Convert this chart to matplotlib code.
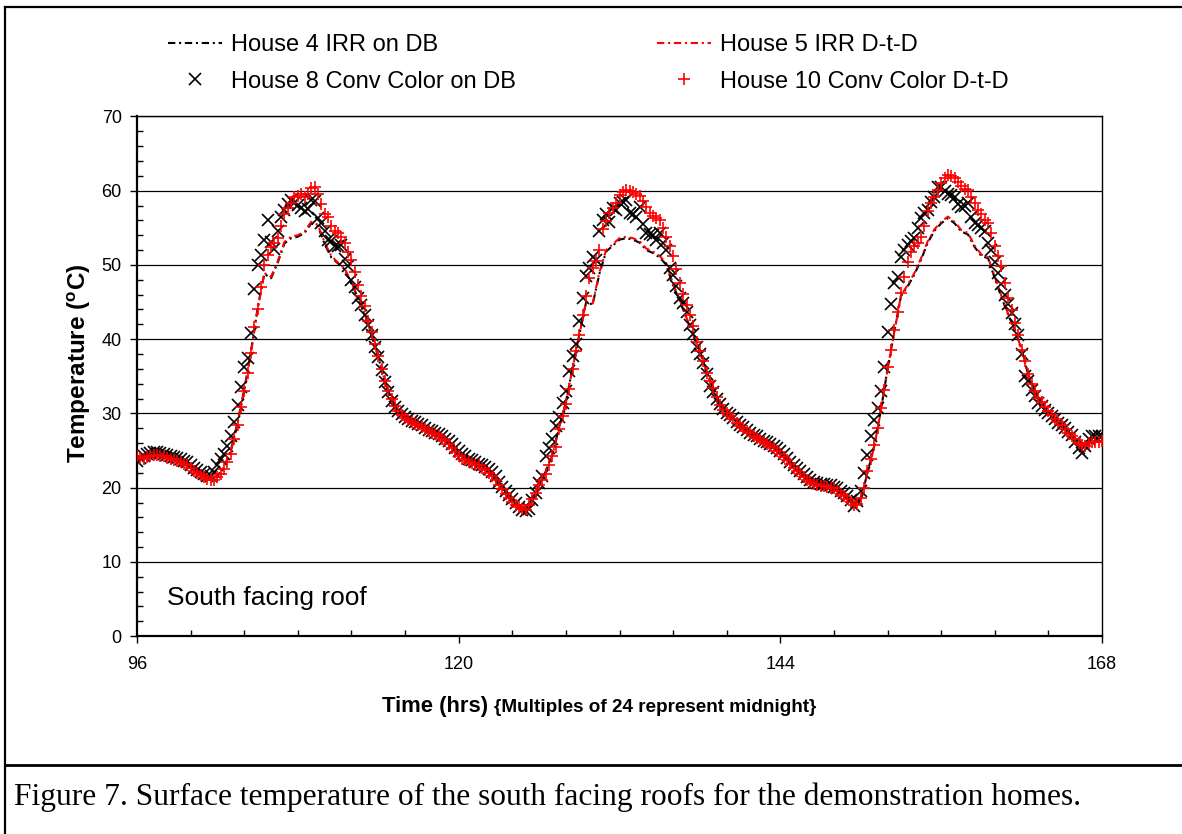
import numpy as np
import matplotlib
matplotlib.use("Agg")
import matplotlib.pyplot as plt
from matplotlib.lines import Line2D
from matplotlib.ticker import MultipleLocator

plt.rcParams['font.family'] = ['Liberation Sans', 'DejaVu Sans']
plt.rcParams['mathtext.fontset'] = 'custom'
plt.rcParams['mathtext.rm'] = 'Liberation Sans'
plt.rcParams['mathtext.bf'] = 'Liberation Sans:bold'

# ---------------- data ----------------
# line series sampled every 0.5 h, marker series every 0.25 h
time_line = np.arange(96.0, 168.01, 0.5)
time_mark = np.arange(96.0, 168.001, 0.25)

house4_irr_db = [
    24.0, 23.9, 24.3, 24.4, 24.2, 23.9, 23.6, 23.2, 22.8, 22.1, 21.5, 21.2,
    21.6, 22.8, 25.0, 28.8, 33.2, 38.3, 44.2, 48.8, 48.2, 50.3, 52.9, 53.6,
    53.8, 54.3, 55.6, 55.2, 52.8, 51.0, 50.2, 49.4, 47.5, 45.5, 43.2, 40.5,
    37.6, 34.2, 31.7, 30.2, 29.4, 28.9, 28.4, 27.9, 27.4, 26.9, 26.3, 25.4,
    24.4, 23.8, 23.4, 23.1, 22.5, 21.7, 20.5, 19.3, 18.2, 17.4, 17.0, 18.4,
    20.4, 22.2, 24.5, 28.2, 31.5, 36.2, 40.6, 44.9, 44.7, 48.8, 51.8, 52.6,
    53.4, 53.6, 53.4, 53.0, 52.0, 51.6, 51.0, 50.0, 47.2, 45.2, 42.8, 40.5,
    38.3, 35.5, 33.3, 31.2, 30.0, 29.3, 28.3, 27.7, 26.9, 26.4, 25.9, 25.3,
    24.6, 23.7, 22.7, 21.9, 21.1, 20.5, 20.2, 20.1, 19.9, 19.2, 18.5, 17.6,
    18.4, 22.0, 25.6, 30.4, 36.0, 41.0, 45.8, 47.1, 48.7, 50.7, 53.0, 54.6,
    55.6, 56.3, 55.6, 54.5, 54.1, 52.4, 51.2, 50.9, 48.2, 45.6, 43.3, 41.2,
    38.5, 35.2, 33.0, 31.5, 30.3, 29.3, 28.4, 27.4, 26.6, 25.6, 25.9, 26.2, 26.3]

house5_irr_dtd = [
    24.1, 24.0, 24.2, 24.4, 24.2, 23.9, 23.6, 23.1, 22.7, 22.0, 21.4, 21.1,
    21.5, 22.7, 24.8, 28.6, 33.0, 38.1, 44.0, 48.9, 48.4, 50.5, 53.1, 53.8,
    54.0, 54.5, 55.8, 55.4, 53.0, 51.2, 50.3, 49.5, 47.6, 45.6, 43.3, 40.6,
    37.7, 34.3, 31.8, 30.3, 29.4, 28.9, 28.4, 27.9, 27.4, 26.9, 26.3, 25.4,
    24.4, 23.8, 23.4, 23.0, 22.5, 21.6, 20.4, 19.2, 18.1, 17.3, 16.9, 18.3,
    20.3, 22.1, 24.4, 28.1, 31.4, 36.1, 40.5, 45.0, 44.8, 49.0, 52.0, 52.8,
    53.6, 53.8, 53.6, 53.2, 52.2, 51.8, 51.2, 50.2, 47.4, 45.3, 42.9, 40.6,
    38.4, 35.6, 33.3, 31.2, 30.0, 29.3, 28.3, 27.7, 26.9, 26.4, 25.9, 25.3,
    24.6, 23.7, 22.7, 21.9, 21.1, 20.5, 20.2, 20.1, 19.9, 19.2, 18.5, 17.5,
    18.3, 21.9, 25.5, 30.3, 35.9, 40.9, 45.9, 47.3, 48.9, 50.9, 53.2, 54.8,
    55.8, 56.5, 55.8, 54.7, 54.3, 52.6, 51.4, 51.0, 48.4, 45.8, 43.4, 41.3,
    38.6, 35.3, 33.1, 31.5, 30.3, 29.3, 28.4, 27.4, 26.6, 25.6, 25.9, 26.2, 26.3]

house8_conv_db = [
    # day 1 (96 - 119.75)
    23.6, 24.0, 24.3, 24.5, 24.7, 24.8, 24.8, 24.7, 24.6, 24.4, 24.3, 24.1,
    24.0, 23.8, 23.6, 23.4, 23.1, 22.7, 22.4, 22.1, 21.8, 21.6, 21.6, 22.1,
    23.0, 23.8, 24.5, 25.6, 27.0, 28.9, 31.1, 33.5, 36.3, 37.5, 40.8, 46.8,
    50.0, 51.3, 53.3, 56.1, 53.1, 52.1, 54.5, 56.5, 57.4, 58.2, 58.7, 58.4,
    58.1, 57.6, 57.2, 57.5, 58.8, 58.6, 56.3, 55.6, 54.6, 53.4, 53.2, 52.6,
    52.5, 52.7, 50.8, 49.8, 48.0, 47.0, 45.6, 44.6, 43.2, 41.9, 40.6, 39.0,
    37.6, 35.8, 34.2, 32.9, 31.7, 30.9, 30.3, 29.9, 29.5, 29.3, 29.0, 28.8,
    28.6, 28.4, 28.1, 27.8, 27.6, 27.4, 27.2, 26.9, 26.6, 26.3, 25.9, 25.4,
    # day 2 (120 - 143.75)
    24.9, 24.5, 24.2, 23.9, 23.7, 23.4, 23.2, 23.0, 22.8, 22.5, 22.1, 21.6,
    20.8, 20.1, 19.5, 19.0, 18.5, 18.0, 17.4, 17.0, 16.9, 17.1, 18.3, 19.3,
    20.6, 21.6, 24.3, 25.3, 26.5, 28.3, 29.5, 31.4, 33.0, 35.7, 37.7, 39.3,
    42.5, 45.5, 48.5, 49.6, 51.0, 50.7, 54.5, 56.1, 56.8, 55.8, 57.6, 57.4,
    58.3, 58.5, 58.7, 57.0, 56.8, 56.5, 57.8, 55.5, 54.3, 54.1, 54.0, 53.4,
    54.3, 53.0, 52.0, 49.6, 48.6, 47.1, 45.6, 44.9, 43.6, 41.9, 40.7, 38.9,
    38.0, 36.8, 35.3, 33.7, 32.9, 31.9, 31.3, 30.6, 30.1, 29.8, 29.4, 28.9,
    28.5, 28.2, 27.8, 27.4, 27.1, 26.9, 26.6, 26.3, 26.1, 25.9, 25.6, 25.3,
    # day 3 (144 - 168)
    25.0, 24.5, 24.0, 23.5, 23.0, 22.6, 22.2, 21.8, 21.4, 21.1, 20.8, 20.6,
    20.5, 20.5, 20.4, 20.3, 20.1, 19.9, 19.6, 19.3, 18.9, 18.3, 17.5, 18.2,
    19.5, 22.0, 24.4, 26.9, 29.1, 30.7, 33.0, 36.3, 41.0, 44.8, 47.5, 48.4,
    51.1, 52.0, 52.7, 53.2, 53.6, 55.0, 56.3, 57.0, 57.4, 58.5, 59.2, 60.5,
    60.5, 59.9, 59.6, 59.4, 59.2, 58.2, 57.8, 58.0, 58.3, 56.5, 55.6, 55.4,
    55.0, 54.5, 53.0, 52.0, 50.4, 48.9, 47.4, 46.0, 44.8, 43.5, 42.0, 40.6,
    38.0, 35.0, 34.3, 33.2, 32.3, 31.4, 31.0, 30.5, 30.1, 29.7, 29.3, 28.7,
    28.4, 28.0, 27.5, 27.1, 26.2, 25.4, 24.7, 25.6, 26.6, 26.9, 26.9, 26.9, 27.0]

house10_conv_dtd = [
    # day 1 (96 - 119.75)
    24.2, 24.0, 23.9, 24.1, 24.3, 24.4, 24.4, 24.3, 24.2, 24.0, 23.9, 23.7,
    23.6, 23.4, 23.2, 23.0, 22.7, 22.3, 22.0, 21.7, 21.4, 21.2, 21.0, 21.1,
    21.4, 21.9, 22.5, 23.4, 24.6, 26.6, 28.5, 30.8, 33.0, 35.5, 38.1, 41.6,
    44.1, 47.0, 50.0, 51.3, 52.4, 52.9, 53.6, 55.2, 56.9, 57.7, 58.3, 59.1,
    59.3, 59.5, 59.1, 59.6, 60.4, 60.5, 59.5, 58.2, 56.9, 56.4, 55.2, 54.5,
    54.3, 53.8, 53.0, 51.8, 50.7, 49.0, 47.3, 45.8, 44.4, 42.5, 41.0, 39.3,
    37.8, 36.0, 34.4, 33.0, 31.9, 31.0, 30.3, 29.8, 29.4, 29.1, 28.9, 28.6,
    28.4, 28.2, 27.9, 27.6, 27.4, 27.2, 26.9, 26.6, 26.3, 25.9, 25.4, 24.8,
    # day 2 (120 - 143.75)
    24.2, 23.9, 23.7, 23.5, 23.3, 23.1, 23.0, 22.7, 22.4, 22.0, 21.6, 21.0,
    20.4, 19.8, 19.2, 18.6, 18.1, 17.7, 17.4, 17.1, 17.0, 17.7, 18.5, 19.3,
    20.3, 21.0, 21.9, 23.0, 24.2, 25.5, 27.9, 29.6, 31.3, 33.3, 36.0, 38.4,
    40.5, 43.2, 45.8, 48.2, 49.6, 50.5, 52.0, 54.8, 55.9, 57.0, 57.6, 58.3,
    59.4, 59.8, 60.1, 60.0, 59.8, 59.5, 59.3, 58.6, 57.8, 57.0, 56.6, 56.3,
    56.1, 55.0, 53.8, 52.6, 51.2, 49.4, 47.6, 46.1, 44.6, 43.2, 41.8, 39.6,
    38.4, 37.0, 35.5, 34.3, 33.4, 32.2, 31.2, 30.5, 30.0, 29.6, 29.2, 28.7,
    28.3, 28.0, 27.7, 27.3, 26.9, 26.7, 26.4, 26.1, 25.9, 25.6, 25.3, 24.9,
    # day 3 (144 - 168)
    24.6, 24.1, 23.7, 23.2, 22.7, 22.2, 21.8, 21.4, 21.1, 20.8, 20.5, 20.3,
    20.2, 20.2, 20.1, 20.0, 19.9, 19.6, 19.2, 18.9, 18.5, 18.1, 17.7, 17.8,
    18.6, 20.0, 22.3, 23.9, 25.8, 28.0, 30.7, 33.2, 36.3, 38.6, 41.3, 43.7,
    46.2, 48.4, 50.4, 51.8, 52.5, 53.0, 53.8, 55.2, 57.3, 58.3, 59.2, 60.1,
    61.0, 61.7, 62.1, 62.0, 61.7, 61.2, 60.6, 60.2, 60.1, 59.2, 58.3, 57.4,
    56.8, 56.1, 55.6, 54.3, 52.5, 51.2, 49.8, 47.6, 45.5, 43.9, 42.2, 40.6,
    38.6, 37.0, 35.3, 34.0, 33.0, 32.1, 31.5, 30.9, 30.3, 29.8, 29.3, 28.8,
    28.4, 27.9, 27.4, 27.0, 26.6, 26.0, 25.7, 25.6, 26.0, 26.1, 26.2, 26.2, 26.3]

series_labels = ["House 4 IRR on DB", "House 5 IRR D-t-D",
                 "House 8 Conv Color on DB", "House 10 Conv Color D-t-D"]
x_major_ticks = [96, 120, 144, 168]
caption = "Figure 7. Surface temperature of the south facing roofs for the demonstration homes."

# ---------------- figure ----------------
W, H = 1182, 834
fig = plt.figure(figsize=(W / 100, H / 100), dpi=100)
fig.patch.set_facecolor("white")

def fx(px):
    return px / W

def fy(py):
    return 1 - py / H

ax = fig.add_axes([fx(137), fy(636.2), fx(1102) - fx(137), fy(116.4) - fy(636.2)])

dash = (0, (3.5, 1.8, 1.0, 1.8))
l4, = ax.plot(time_line, house4_irr_db, color="black", lw=1.5, ls=dash, zorder=2)
l5, = ax.plot(time_line, house5_irr_dtd, color="red", lw=1.5, ls=dash, zorder=2)
m8, = ax.plot(time_mark, house8_conv_db, ls="none", marker="x", ms=8, mew=1.2,
              color="black", zorder=3)
m10, = ax.plot(time_mark, house10_conv_dtd, ls="none", marker="+", ms=9, mew=1.2,
               color="red", zorder=4)

ax.set_xlim(96, 168)
ax.set_ylim(0, 70)
ax.set_xticks(x_major_ticks)
ax.xaxis.set_minor_locator(MultipleLocator(4))
ax.yaxis.set_major_locator(MultipleLocator(10))
ax.yaxis.set_minor_locator(MultipleLocator(2))
ax.tick_params(which="major", direction="out", length=5, width=1, labelsize=13,
               colors="black", pad=6)
ax.tick_params(axis="x", which="major", pad=9)
ax.tick_params(which="minor", direction="in", length=4, width=1)
ax.yaxis.grid(True, which="major", color="black", lw=0.9)
ax.set_axisbelow(True)
for s in ["left", "bottom"]:
    ax.spines[s].set_linewidth(1.6)
for s in ["right", "top"]:
    ax.spines[s].set_linewidth(1.0)

ax.text(98.25, 5.1, "South facing roof", fontsize=19, va="center", ha="left")

# axis labels
fig.text(fx(79), fy(363), r"Temperature (${}^{\mathbf{o}}$C)", rotation=90,
         ha="center", va="center", fontsize=17.5, fontweight="bold")
fig.text(fx(488), fy(712), "Time (hrs)", ha="right", va="baseline",
         fontsize=15.8, fontweight="bold")
fig.text(fx(494), fy(712), "{Multiples of 24 represent midnight}", ha="left",
         va="baseline", fontsize=13.6, fontweight="bold")

# legend
handles = [l4, m8, l5, m10]
labels = [series_labels[0], series_labels[2], series_labels[1], series_labels[3]]
fig.legend(handles, labels, ncol=2, loc="upper left",
           bbox_to_anchor=(fx(168), fy(34)), frameon=False, fontsize=17,
           handlelength=2.3, handletextpad=0.35, columnspacing=6.0,
           borderpad=0, borderaxespad=0, labelspacing=0.62)

# caption & frame
fig.text(fx(14), fy(797), caption, family=["Liberation Serif", "DejaVu Serif"],
         fontsize=22.6, ha="left", va="center")
fig.add_artist(Line2D([fx(5), fx(1182)], [fy(7), fy(7)], color="black", lw=1.6))
fig.add_artist(Line2D([fx(5), fx(5)], [fy(7), fy(834)], color="black", lw=1.6))
fig.add_artist(Line2D([fx(5), fx(1182)], [fy(765), fy(765)], color="black", lw=2.0))

fig.savefig("out.png", dpi=100, facecolor="white")
